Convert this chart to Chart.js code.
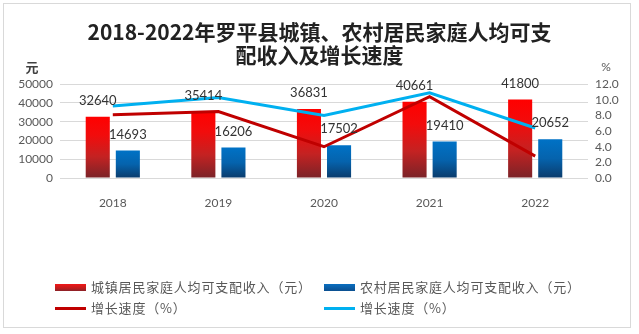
<!DOCTYPE html>
<html>
<head>
<meta charset="utf-8">
<script src="https://cdn.jsdelivr.net/npm/chart.js@4"></script>
<style>
    body { margin: 0; background: #fff; }
    #wrap { position: relative; width: 639px; height: 334px; }
    #frame { position: absolute; left: 3px; top: 3px; width: 628px; height: 325px; border: 1px solid #d9d9d9; box-sizing: border-box; pointer-events: none; }
    #legend { position: absolute; left: 0; top: 0; width: 639px; height: 334px; pointer-events: none; font-family: "Noto Sans CJK SC", sans-serif; font-size: 13px; color: #595959; letter-spacing: 0.8px; }
    .item { position: absolute; height: 18px; line-height: 18px; white-space: nowrap; }
    .mark { position: absolute; left: 0; width: 31px; }
    .item span.txt { position: absolute; left: 36px; top: 0; }
</style>
</head>
<body>
<div id="wrap">
    <canvas id="incomeChart" width="639" height="334"></canvas>
    <div id="legend"></div>
    <div id="frame"></div>
</div>
<script>
const years = ['2018', '2019', '2020', '2021', '2022'];
const urbanIncome = [32640, 35414, 36831, 40661, 41800];
const ruralIncome = [14693, 16206, 17502, 19410, 20652];
const urbanGrowth = [8.1, 8.5, 4.0, 10.4, 2.8];
const ruralGrowth = [9.2, 10.3, 8.0, 10.9, 6.4];
const urbanLabel = '城镇居民家庭人均可支配收入（元）';
const ruralLabel = '农村居民家庭人均可支配收入（元）';
const growthLabel = '增长速度（%）';

const ctx = document.getElementById('incomeChart').getContext('2d');

// each bar gets its own top-to-bottom gradient
function barFill(stops, solid) {
    return (c) => {
        const chart = c.chart;
        if (c.type !== 'data' || !chart.chartArea) return solid;
        const y = chart.scales.y;
        const top = y.getPixelForValue(c.raw);
        const bottom = y.getPixelForValue(0);
        const g = chart.ctx.createLinearGradient(0, top, 0, bottom);
        stops.forEach(s => g.addColorStop(s[0], s[1]));
        return g;
    };
}

const redStops = [[0, '#ff0000'], [0.3, '#f20c0c'], [0.65, '#c42222'], [1, '#7a2328']];
const blueStops = [[0, '#0072c6'], [0.5, '#0563ad'], [1, '#0b3b6b']];

// value labels above the bars
const valueLabels = {
    id: 'valueLabels',
    afterDatasetsDraw(chart) {
        const c = chart.ctx;
        c.save();
        c.font = '13px Lato, sans-serif';
        c.fillStyle = '#333';
        c.textAlign = 'center';
        c.textBaseline = 'middle';
        chart.data.datasets.forEach((ds, i) => {
            if (ds.type !== 'bar') return;
            chart.getDatasetMeta(i).data.forEach((bar, j) => {
                c.fillText(String(ds.data[j]), bar.x, bar.y - 16);
            });
        });
        c.restore();
    }
};

// unit captions above both value axes
const unitCaptions = {
    id: 'unitCaptions',
    afterDraw(chart) {
        const c = chart.ctx;
        const area = chart.chartArea;
        c.save();
        c.textAlign = 'center';
        c.textBaseline = 'middle';
        c.fillStyle = '#404040';
        c.font = 'bold 13px "Noto Sans CJK SC", sans-serif';
        c.fillText('元', area.left - 28, area.top - 17);
        c.fillStyle = '#595959';
        c.font = '12px Lato, sans-serif';
        c.fillText('%', area.right + 18, area.top - 17);
        c.restore();
    }
};

const chart = new Chart(ctx, {
    type: 'bar',
    data: {
        labels: years,
        datasets: [
            {
                type: 'line',
                label: growthLabel,
                data: urbanGrowth,
                yAxisID: 'y1',
                borderColor: '#c00000',
                backgroundColor: '#c00000',
                borderWidth: 3,
                pointRadius: 0,
                tension: 0,
                order: 0
            },
            {
                type: 'line',
                label: growthLabel,
                data: ruralGrowth,
                yAxisID: 'y1',
                borderColor: '#00b0f0',
                backgroundColor: '#00b0f0',
                borderWidth: 3,
                pointRadius: 0,
                tension: 0,
                order: 1
            },
            {
                type: 'bar',
                label: urbanLabel,
                data: urbanIncome,
                yAxisID: 'y',
                backgroundColor: barFill(redStops, '#e01515'),
                categoryPercentage: 0.57,
                barPercentage: 0.8,
                order: 2
            },
            {
                type: 'bar',
                label: ruralLabel,
                data: ruralIncome,
                yAxisID: 'y',
                backgroundColor: barFill(blueStops, '#0a5ea8'),
                categoryPercentage: 0.57,
                barPercentage: 0.8,
                order: 3
            }
        ]
    },
    options: {
        responsive: false,
        animation: false,
        devicePixelRatio: 1,
        layout: { padding: { top: 0, left: 0, right: 0, bottom: 126 } },
        plugins: {
            legend: { display: false },
            tooltip: { enabled: false },
            title: {
                display: true,
                text: ['2018-2022年罗平县城镇、农村居民家庭人均可支', '配收入及增长速度'],
                color: '#222',
                font: { family: '"Noto Sans CJK SC", sans-serif', size: 21, weight: 'bold', lineHeight: 1.1 },
                padding: { top: 20, bottom: 18 }
            }
        },
        scales: {
            x: {
                grid: { display: false },
                border: { display: false },
                ticks: { color: '#595959', font: { family: 'Lato, sans-serif', size: 12 }, padding: 10 },
                afterFit: (s) => { s.height = 30; }
            },
            y: {
                position: 'left',
                min: 0,
                max: 50000,
                ticks: {
                    stepSize: 10000,
                    autoSkip: false,
                    color: '#595959',
                    font: { family: 'Lato, sans-serif', size: 12 },
                    padding: 7,
                    callback: (v) => String(v)
                },
                grid: { color: '#d9d9d9', drawTicks: false },
                border: { display: false },
                afterFit: (s) => { s.width = 60; }
            },
            y1: {
                position: 'right',
                min: 0,
                max: 12,
                ticks: {
                    stepSize: 2,
                    autoSkip: false,
                    color: '#595959',
                    font: { family: 'Lato, sans-serif', size: 12 },
                    padding: 7,
                    callback: (v) => v.toFixed(1)
                },
                grid: { drawOnChartArea: false, drawTicks: false },
                border: { display: false },
                afterFit: (s) => { s.width = 51; }
            }
        }
    },
    plugins: [valueLabels, unitCaptions]
});

// legend laid out in two columns like the original
const legendBox = document.getElementById('legend');
const legendSlots = [
    { ds: 2, left: 55, top: 278, kind: 'box', fill: 'linear-gradient(#f01818, #c01c1c 60%, #8a2228)' },
    { ds: 3, left: 324, top: 278, kind: 'box', fill: 'linear-gradient(#0a6fc0, #0b4f90)' },
    { ds: 0, left: 55, top: 299, kind: 'line' },
    { ds: 1, left: 324, top: 299, kind: 'line' }
];
legendSlots.forEach(slot => {
    const ds = chart.data.datasets[slot.ds];
    const item = document.createElement('div');
    item.className = 'item';
    item.style.left = slot.left + 'px';
    item.style.top = slot.top + 'px';
    const mark = document.createElement('div');
    mark.className = 'mark';
    if (slot.kind === 'box') {
        mark.style.top = '6px';
        mark.style.height = '7px';
        mark.style.background = slot.fill;
    } else {
        mark.style.top = '8px';
        mark.style.height = '3px';
        mark.style.background = ds.borderColor;
    }
    const txt = document.createElement('span');
    txt.className = 'txt';
    txt.textContent = ds.label;
    item.appendChild(mark);
    item.appendChild(txt);
    legendBox.appendChild(item);
});
</script>
</body>
</html>
